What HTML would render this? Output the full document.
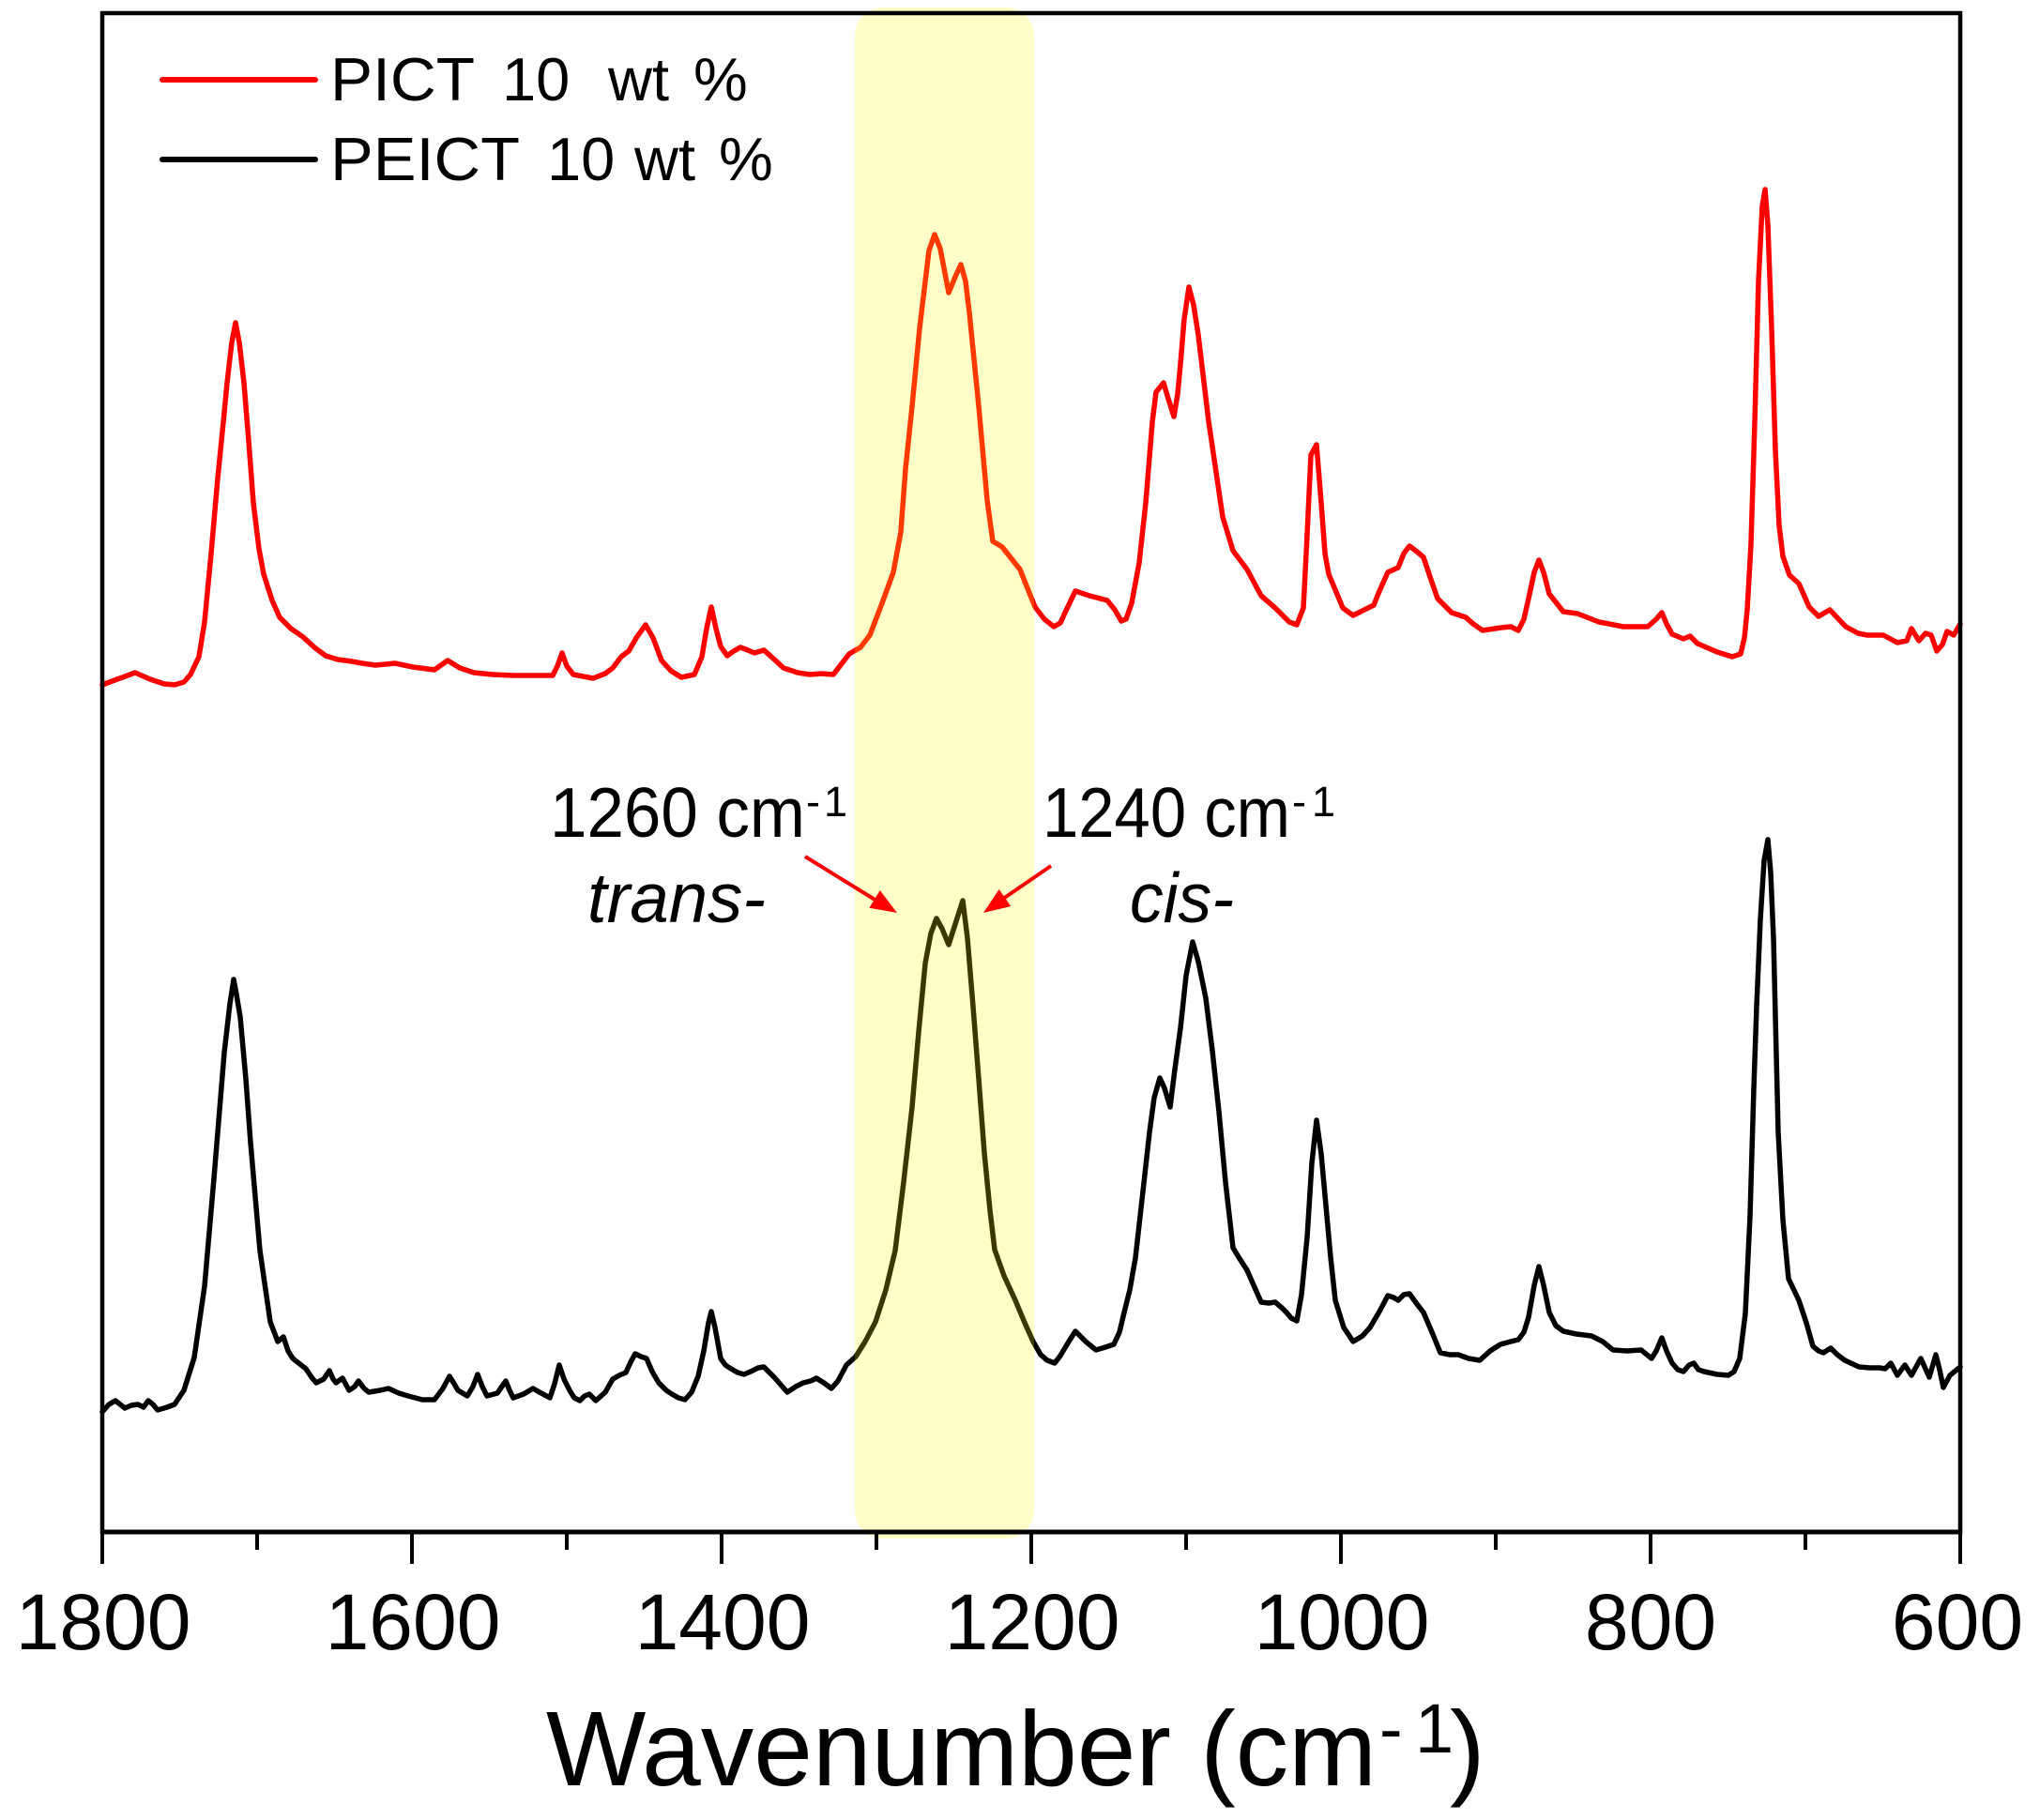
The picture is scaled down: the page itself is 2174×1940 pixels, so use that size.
<!DOCTYPE html>
<html>
<head>
<meta charset="utf-8">
<style>
  html,body{margin:0;padding:0;background:#fff;}
  svg{display:block;}
  text{font-family:"Liberation Sans", Arial, sans-serif;fill:#000;}
</style>
</head>
<body>
<svg width="2174" height="1940" viewBox="0 0 2174 1940" xmlns="http://www.w3.org/2000/svg">
  <rect x="0" y="0" width="2174" height="1940" fill="#fff"/>

  <!-- red spectrum -->
  <polyline fill="none" stroke="#ff0000" stroke-width="5.5" stroke-linejoin="round" stroke-linecap="round" points="
109,730 125,724 144,717 160,724 175,729 186,730 196,727 203,719 212,700 218,663 225,590 232,510 238,450 242,408 247,365 251,344 255,365 260,408 265,470 270,536 276,585 281,612 290,640 298,658 310,670 323,679 335,690 347,699 360,703 375,705 386,707 400,709 421,707 440,711 463,714 470,709 477,704 490,712 505,717 525,719 547,720 570,720 589,720 594,710 599,696 604,710 611,719 632,723 645,718 653,712 662,700 670,694 678,680 688,666 696,680 705,704 715,715 726,722 740,719 748,700 753,670 758,647 763,670 768,689 775,699 782,694 789,690 797,693 804,696 814,693 822,700 835,712 850,717 863,719 875,718 888,719 895,710 905,697 917,690 927,677 940,643 952,610 960,567 965,500 972,433 980,350 990,267 996,250 1002,265 1011,312 1018,295 1024,282 1029,300 1033,333 1043,433 1052,533 1058,577 1068,583 1087,607 1103,647 1113,660 1123,668 1130,664 1135,653 1146,630 1161,635 1180,640 1188,650 1195,662 1200,660 1206,643 1214,600 1221,536 1228,450 1232,418 1240,408 1245,425 1251,444 1255,420 1258,388 1262,340 1267,306 1272,325 1277,357 1288,449 1303,551 1314,587 1329,607 1344,635 1359,648 1374,663 1382,666 1389,648 1393,570 1397,485 1403,474 1408,536 1412,590 1416,612 1431,648 1442,656 1464,645 1470,630 1479,610 1490,605 1496,590 1502,582 1510,588 1517,594 1524,615 1532,638 1547,653 1562,658 1570,665 1580,672 1600,669 1610,668 1618,672 1624,660 1629,638 1635,610 1640,597 1645,610 1651,633 1666,652 1681,654 1704,663 1730,668 1756,668 1765,660 1771,653 1776,665 1782,676 1794,681 1801,678 1809,686 1830,695 1846,700 1855,697 1859,680 1862,650 1866,580 1870,450 1874,300 1878,220 1881,202 1884,240 1888,350 1892,480 1896,560 1900,593 1907,613 1917,622 1928,647 1938,657 1950,650 1967,668 1980,675 1990,677 2007,677 2022,685 2032,683 2037,670 2045,683 2052,675 2058,677 2064,694 2070,687 2075,673 2082,677 2089,665"/>

  <!-- black spectrum -->
  <polyline fill="none" stroke="#000000" stroke-width="5.5" stroke-linejoin="round" stroke-linecap="round" points="
109,1505 116,1497 123,1493 133,1501 140,1498 147,1497 153,1500 158,1493 163,1497 168,1503 178,1500 186,1497 196,1482 207,1447 218,1371 228,1256 239,1122 245,1070 249,1044 252,1060 256,1084 262,1150 267,1218 277,1333 288,1409 296,1430 302,1425 307,1440 312,1448 326,1459 332,1468 337,1474 345,1470 351,1461 355,1470 358,1474 365,1469 372,1482 378,1478 382,1472 388,1480 393,1484 405,1482 414,1480 425,1485 435,1488 450,1492 463,1492 472,1480 479,1467 484,1475 488,1482 498,1488 504,1478 509,1465 514,1478 519,1488 530,1485 539,1472 543,1482 547,1490 558,1486 568,1480 575,1484 586,1490 591,1475 596,1455 601,1470 607,1482 612,1490 618,1493 623,1488 628,1486 635,1493 645,1484 653,1470 660,1466 667,1463 672,1452 677,1443 683,1446 689,1448 695,1462 702,1474 710,1482 716,1486 723,1490 730,1492 737,1484 744,1467 750,1440 755,1410 758,1398 762,1415 768,1448 773,1455 779,1459 786,1463 793,1465 800,1462 808,1458 814,1457 825,1468 839,1484 848,1478 856,1474 864,1472 870,1469 878,1474 886,1480 893,1472 902,1455 912,1446 922,1430 933,1409 944,1375 954,1333 963,1260 972,1180 979,1100 986,1027 992,995 998,979 1004,990 1011,1007 1018,985 1026,960 1031,1000 1037,1073 1043,1150 1049,1229 1055,1290 1060,1332 1070,1360 1082,1386 1092,1410 1101,1430 1109,1444 1116,1450 1124,1453 1130,1445 1139,1430 1146,1419 1151,1424 1157,1430 1168,1439 1178,1436 1187,1433 1193,1420 1198,1399 1204,1375 1210,1341 1218,1270 1225,1207 1230,1170 1236,1149 1241,1160 1247,1180 1252,1140 1258,1096 1264,1040 1271,1004 1277,1025 1285,1064 1292,1120 1299,1185 1306,1260 1314,1330 1320,1340 1329,1354 1336,1370 1344,1388 1352,1389 1359,1388 1366,1394 1371,1399 1376,1405 1382,1408 1387,1380 1393,1319 1398,1240 1403,1194 1408,1230 1412,1274 1418,1340 1423,1386 1432,1415 1442,1430 1452,1424 1460,1415 1470,1398 1479,1381 1485,1383 1490,1386 1496,1380 1502,1379 1510,1390 1517,1399 1526,1420 1535,1442 1545,1444 1554,1444 1565,1448 1577,1450 1588,1440 1599,1433 1610,1430 1618,1428 1624,1420 1629,1404 1635,1370 1640,1350 1645,1370 1651,1399 1658,1413 1666,1419 1680,1422 1696,1424 1708,1430 1719,1439 1734,1440 1749,1439 1760,1448 1765,1440 1771,1426 1776,1440 1782,1453 1788,1460 1794,1462 1800,1455 1805,1453 1810,1460 1816,1462 1830,1465 1842,1466 1848,1462 1854,1448 1860,1400 1865,1296 1869,1160 1872,1073 1876,980 1880,917 1884,895 1887,930 1890,1000 1895,1207 1900,1300 1906,1363 1917,1386 1925,1410 1932,1435 1938,1440 1943,1442 1951,1437 1958,1444 1966,1450 1981,1457 1992,1458 2003,1458 2009,1459 2015,1453 2022,1466 2030,1455 2037,1466 2047,1448 2056,1468 2063,1444 2067,1460 2071,1479 2078,1466 2089,1457"/>

  <!-- yellow highlight band (translucent, over the curves) -->
  <rect x="911" y="8" width="191" height="1632" rx="30" ry="30" fill="#ffff00" fill-opacity="0.22"/>

  <!-- frame -->
  <rect x="109" y="14" width="1980" height="1619" fill="none" stroke="#000" stroke-width="4.5"/>
  <line x1="107" y1="1633" x2="2091" y2="1633" stroke="#000" stroke-width="5"/>

  <!-- ticks -->
  <g stroke="#000" stroke-width="4">
    <line x1="109" y1="1633" x2="109" y2="1667"/>
    <line x1="439" y1="1633" x2="439" y2="1667"/>
    <line x1="769" y1="1633" x2="769" y2="1667"/>
    <line x1="1099" y1="1633" x2="1099" y2="1667"/>
    <line x1="1429" y1="1633" x2="1429" y2="1667"/>
    <line x1="1759" y1="1633" x2="1759" y2="1667"/>
    <line x1="2089" y1="1633" x2="2089" y2="1667"/>
    <line x1="274" y1="1633" x2="274" y2="1652"/>
    <line x1="604" y1="1633" x2="604" y2="1652"/>
    <line x1="934" y1="1633" x2="934" y2="1652"/>
    <line x1="1264" y1="1633" x2="1264" y2="1652"/>
    <line x1="1594" y1="1633" x2="1594" y2="1652"/>
    <line x1="1924" y1="1633" x2="1924" y2="1652"/>
  </g>

  <!-- tick labels -->
  <g font-size="84" text-anchor="middle">
    <text x="110" y="1758">1800</text>
    <text x="440" y="1758">1600</text>
    <text x="770" y="1758">1400</text>
    <text x="1100" y="1758">1200</text>
    <text x="1430" y="1758">1000</text>
    <text x="1759" y="1758">800</text>
    <text x="2086" y="1758">600</text>
  </g>

  <!-- axis title -->
  <text x="582" y="1903" font-size="113" textLength="885" lengthAdjust="spacingAndGlyphs">Wavenumber (cm</text>
  <text x="1470" y="1868" font-size="74">-</text>
  <text x="1508" y="1868" font-size="74">1</text>
  <text x="1545" y="1903" font-size="113">)</text>

  <!-- legend -->
  <line x1="173" y1="85" x2="336" y2="85" stroke="#ff0000" stroke-width="6" stroke-linecap="round"/>
  <line x1="173" y1="170" x2="336" y2="170" stroke="#000" stroke-width="6" stroke-linecap="round"/>
  <g font-size="65">
    <text x="352" y="107" textLength="154" lengthAdjust="spacingAndGlyphs">PICT</text>
    <text x="535" y="107">10</text>
    <text x="648" y="107">wt</text>
    <text x="739" y="107">%</text>
    <text x="352" y="192" textLength="202" lengthAdjust="spacingAndGlyphs">PEICT</text>
    <text x="583" y="192">10</text>
    <text x="676" y="192">wt</text>
    <text x="766" y="192">%</text>
  </g>

  <!-- annotations -->
  <text x="586" y="892" font-size="75" textLength="272" lengthAdjust="spacingAndGlyphs">1260 cm</text>
  <text x="859" y="870" font-size="45">-</text>
  <text x="878" y="870" font-size="45">1</text>
  <text x="1111" y="892" font-size="75" textLength="264" lengthAdjust="spacingAndGlyphs">1240 cm</text>
  <text x="1377" y="870" font-size="45">-</text>
  <text x="1398" y="870" font-size="45">1</text>
  <text x="626" y="983" font-size="75" font-style="italic" textLength="190" lengthAdjust="spacingAndGlyphs">trans-</text>
  <text x="1204" y="983" font-size="75" font-style="italic" textLength="111" lengthAdjust="spacingAndGlyphs">cis-</text>

  <!-- arrows -->
  <line x1="858" y1="913" x2="934" y2="960" stroke="#ff0000" stroke-width="4"/>
  <polygon points="956,973 926.4,967.8 937.8,949.0" fill="#ff0000"/>
  <line x1="1120" y1="923" x2="1069" y2="958" stroke="#ff0000" stroke-width="4"/>
  <polygon points="1048,973 1064.7,948.0 1077.3,966.0" fill="#ff0000"/>
</svg>
</body>
</html>
